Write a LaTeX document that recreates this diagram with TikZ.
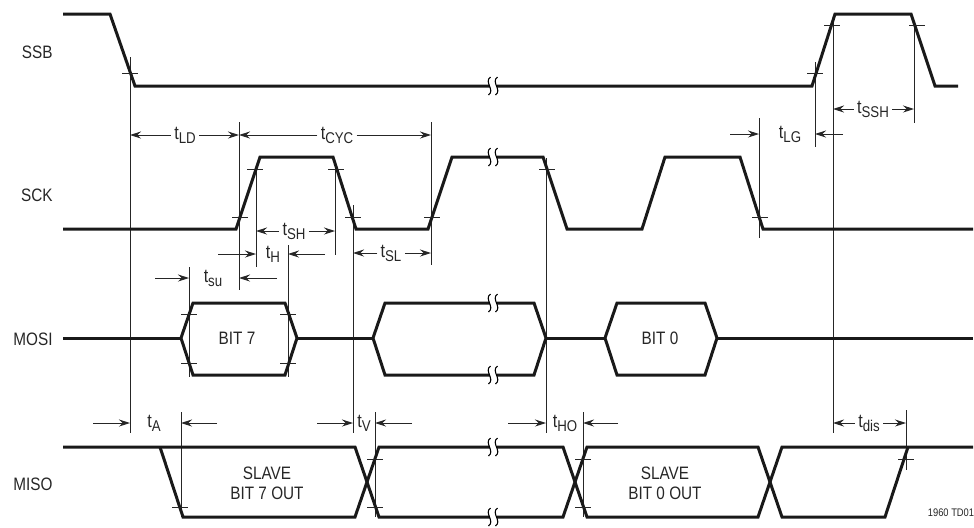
\documentclass[tikz,border=0pt]{standalone}
\usepackage{fontspec}
\setmainfont{Liberation Sans}[FakeStretch=0.85]
\usetikzlibrary{arrows.meta}
\newcommand{\tsub}[1]{t\raisebox{-2pt}{\fontsize{7.8}{8}\selectfont #1}}

\begin{document}
\begin{tikzpicture}[x=0.5pt, y=-0.5pt,
    sig/.style={line width=1.5pt, line join=miter, black!90},
    refline/.style={line width=0.45pt, black!85},
    tickmark/.style={line width=0.45pt, black!85},
    dim/.style={-{Stealth[length=5.5pt, width=3.5pt]}, line width=0.45pt, black!85},
    siglabel/.style={font=\fontsize{9}{10}\selectfont, text=black!85, anchor=east, inner sep=0pt},
    tlabel/.style={font=\fontsize{9.5}{10}\selectfont, text=black!85, inner sep=1.5pt},
    datatext/.style={font=\fontsize{9}{10}\selectfont, text=black!85, align=center},
    brk/.pic={
      \fill[white] (-3.5,-3) rectangle (3.5,3);
      \foreach \s in {-3.5,3.5}
        \draw[line width=0.55pt] (\s+1,-9) .. controls (\s-6,-4) and (\s+6,4) .. (\s-1,9);
    }
  ]
  \useasboundingbox (0,0) rectangle (974,527);

  % signal names
  \node[siglabel] (ssb) at (53,52) {SSB};
  \node[siglabel] (sck) at (53,195) {SCK};
  \node[siglabel] (mosi) at (53,339) {MOSI};
  \node[siglabel] (miso) at (53,484) {MISO};

  % reference positions
  \coordinate (xa) at (130,0);
  \coordinate (xb) at (239,0);
  \coordinate (xc) at (256,0);
  \coordinate (xd) at (335,0);
  \coordinate (xe) at (353,0);
  \coordinate (xf) at (431,0);
  \coordinate (xg) at (546,0);
  \coordinate (xh) at (759,0);
  \coordinate (xi) at (815,0);
  \coordinate (xj) at (833,0);
  \coordinate (xk) at (914,0);
  \coordinate (xl) at (189,0);
  \coordinate (xm) at (288,0);
  \coordinate (xn) at (181,0);
  \coordinate (xo) at (375,0);
  \coordinate (xp) at (583,0);
  \coordinate (xq) at (906,0);

  % vertical reference lines
  \foreach \v/\a/\b in {xa/57/433, xb/122/290, xc/165/267, xd/165/255, xe/205/433,
      xf/122/265, xg/158/433, xh/118/238, xi/62/147, xj/17/433, xk/27/123,
      xl/267/377, xm/245/377, xn/412/517, xo/412/517, xp/412/517, xq/410/470}
    \draw[refline] (\v |- 0,\a) -- (\v |- 0,\b);

  % SSB
  \draw[sig] (63,14) -- (110,14) -- (135,86) -- (812,86)
    -- (835,14) -- (911,14) -- (935,86) -- (958,86);
  % SCK
  \draw[sig] (63,229) -- (236,229) -- (260,157) -- (333,157) -- (356,229) -- (428,229)
    -- (452,157) -- (543,157) -- (567,229) -- (642,229) -- (665,157) -- (740,157)
    -- (763,229) -- (973,229);
  % MOSI
  \draw[sig] (63,338) -- (181,338) (297,338) -- (373,338) (546,338) -- (605,338)
    (717,338) -- (973,338);
  \draw[sig] (181,338) -- (193,303) -- (285,303) -- (297,338) -- (285,375) -- (193,375) -- cycle;
  \draw[sig] (373,338) -- (385,303) -- (534,303) -- (546,338) -- (534,375) -- (385,375) -- cycle;
  \draw[sig] (605,338) -- (617,303) -- (705,303) -- (717,338) -- (705,375) -- (617,375) -- cycle;
  % MISO
  \draw[sig] (63,447) -- (355,447) -- (379,517) -- (563,517) -- (587,447) -- (758,447)
    -- (782,517) -- (885,517) -- (908,447);
  \draw[sig] (160,447) -- (183,517) -- (355,517) -- (379,447) -- (563,447) -- (587,517)
    -- (758,517) -- (782,447) -- (973,447);

  % breaks
  \foreach \y in {86,157,303,375,447,517}
    \pic at (493,\y) {brk};

  % crossing ticks
  \foreach \x/\y in {130/73, 815/73, 832/25, 917/25,
      240/217, 255/169, 336/169, 353/217, 432/217, 547/169, 760/217,
      189/314, 189/363, 288/314, 288/363,
      180/507, 375/459, 375/507, 583/459, 583/507, 906/459}
    \draw[tickmark] (\x-8,\y) -- (\x+8,\y);

  % data
  \node[datatext] (bit7) at (237,338) {BIT 7};
  \node[datatext] (bit0) at (660,338) {BIT 0};
  \node[datatext] (slv7) at (267,483) {SLAVE\\BIT 7 OUT};
  \node[datatext] (slv0) at (665,483) {SLAVE\\BIT 0 OUT};

  % timing labels, arrows inside
  \node[tlabel] (tld) at (185,135) {\tsub{LD}};
  \draw[dim] (tld.west) -- (tld.west -| xa);
  \draw[dim] (tld.east) -- (tld.east -| xb);

  \node[tlabel] (tcyc) at (337,135) {\tsub{CYC}};
  \draw[dim] (tcyc.west) -- (tcyc.west -| xb);
  \draw[dim] (tcyc.east) -- (tcyc.east -| xf);

  \node[tlabel] (tsh) at (294,231) {\tsub{SH}};
  \draw[dim] (tsh.west) -- (tsh.west -| xc);
  \draw[dim] (tsh.east) -- (tsh.east -| xd);

  \node[tlabel] (tsl) at (391,253) {\tsub{SL}};
  \draw[dim] (tsl.west) -- (tsl.west -| xe);
  \draw[dim] (tsl.east) -- (tsl.east -| xf);

  \node[tlabel] (tssh) at (873,109) {\tsub{SSH}};
  \draw[dim] (tssh.west) -- (tssh.west -| xj);
  \draw[dim] (tssh.east) -- (tssh.east -| xk);

  \node[tlabel] (tdis) at (869,423) {\tsub{dis}};
  \draw[dim] (tdis.west) -- (tdis.west -| xj);
  \draw[dim] (tdis.east) -- (tdis.east -| xq);

  % timing labels, arrows outside
  \node[tlabel] (th) at (273,254) {\tsub{H}};
  \draw[dim] (th.west -| xc) ++(-38,0) -- ++(38,0);
  \draw[dim] (th.east -| xm) ++(37,0) -- ++(-37,0);

  \node[tlabel] (tsu) at (213,278) {\tsub{su}};
  \draw[dim] (tsu.west -| xl) ++(-34,0) -- ++(34,0);
  \draw[dim] (tsu.east -| xb) ++(38,0) -- ++(-38,0);

  \node[tlabel] (ta) at (154,423) {\tsub{A}};
  \draw[dim] (ta.west -| xa) ++(-37,0) -- ++(37,0);
  \draw[dim] (ta.east -| xn) ++(36,0) -- ++(-36,0);

  \node[tlabel] (tv) at (364,423) {\tsub{V}};
  \draw[dim] (tv.west -| xe) ++(-36,0) -- ++(36,0);
  \draw[dim] (tv.east -| xo) ++(37,0) -- ++(-37,0);

  \node[tlabel] (tho) at (565,423) {\tsub{HO}};
  \draw[dim] (tho.west -| xg) ++(-38,0) -- ++(38,0);
  \draw[dim] (tho.east -| xp) ++(35,0) -- ++(-35,0);

  \node[tlabel] (tlg) at (790,134) {\tsub{LG}};
  \draw[dim] (tlg.west -| xh) ++(-29,0) -- ++(29,0);
  \draw[dim] (tlg.east -| xi) ++(28,0) -- ++(-28,0);

  \node[font=\fontsize{5.5}{6}\selectfont, text=black!85] (fig) at (951,513) {1960 TD01};
\end{tikzpicture}
\end{document}
